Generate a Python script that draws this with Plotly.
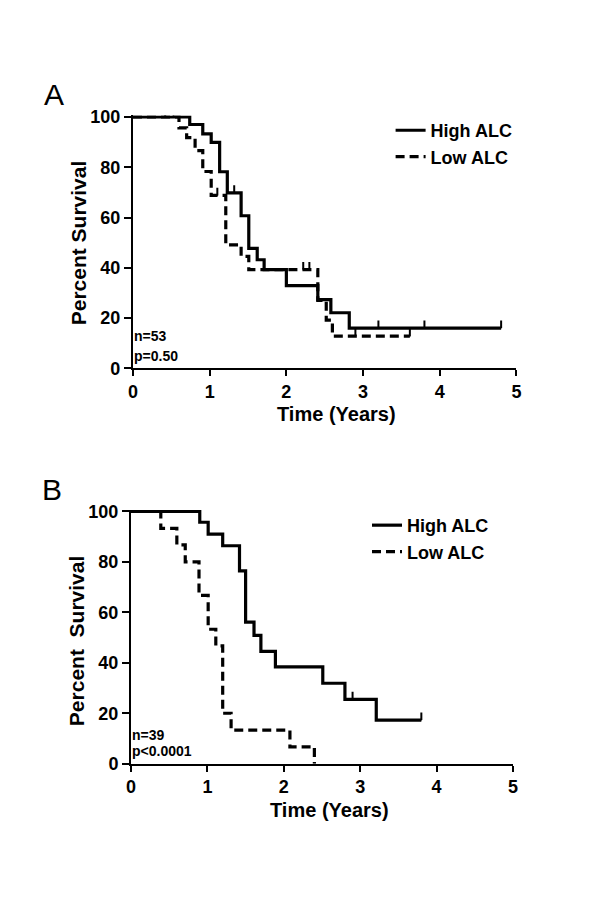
import plotly.graph_objects as go

# ---------------- data ----------------
years_ticks = [0, 1, 2, 3, 4, 5]
pct_ticks = [0, 20, 40, 60, 80, 100]

# Panel A (n=53, p=0.50)
a_high_t = [0, 0.74, 0.91, 1.02, 1.13, 1.23, 1.41, 1.51, 1.62, 1.71, 2.00, 2.41, 2.58, 2.82, 4.80]
a_high_s = [100, 97.0, 93.3, 89.9, 78.2, 69.8, 60.7, 47.7, 43.2, 39.3, 32.9, 27.3, 22.1, 16.0, 16.0]
a_high_cens_t = [0.42, 0.53, 1.32, 3.20, 3.80, 4.80]
a_high_cens_s = [100, 100, 69.8, 16.0, 16.0, 16.0]

a_low_t = [0, 0.60, 0.70, 0.81, 0.91, 1.02, 1.21, 1.41, 1.51, 2.41, 2.52, 2.60, 3.61]
a_low_s = [100, 95.7, 91.8, 86.6, 78.3, 68.8, 49.1, 44.5, 39.3, 27.0, 19.2, 12.8, 12.8]
a_low_cens_t = [1.10, 2.22, 2.30, 2.90, 3.61]
a_low_cens_s = [68.8, 39.3, 39.3, 12.8, 12.8]

# Panel B (n=39, p<0.0001)
b_high_t = [0, 0.90, 1.01, 1.20, 1.42, 1.50, 1.61, 1.70, 1.89, 2.51, 2.80, 3.21, 3.80]
b_high_s = [100, 95.7, 91.0, 86.4, 76.4, 56.1, 50.9, 44.5, 38.4, 31.9, 25.5, 17.3, 17.3]
b_high_cens_t = [0.51, 0.70, 2.90, 3.80]
b_high_cens_s = [100, 100, 25.5, 17.3]

b_low_t = [0, 0.39, 0.60, 0.71, 0.89, 1.01, 1.11, 1.20, 1.31, 2.08, 2.40]
b_low_s = [100, 93.3, 86.7, 80.0, 66.7, 53.3, 46.7, 20.0, 13.3, 6.7, 0]

series_names = ["High ALC", "Low ALC"]

# ---------------- styling ----------------
W, H = 600, 898
FONT = "Liberation Sans, Arial, sans-serif"
BLACK = "black"
LW = 3.2
DASH = "9px,5px"
TICK_H = 3.0  # censor tick height in percent units


def px(x):
    return x / W


def py(y):
    return 1 - y / H


fig = go.Figure()


def add_curve(t, s, name, dash, xa, ya, legend, show):
    fig.add_trace(go.Scatter(
        x=t, y=s, mode="lines", line=dict(color=BLACK, width=LW, dash=dash, shape="hv"),
        name=name, xaxis=xa, yaxis=ya, legend=legend, showlegend=show, cliponaxis=False,
        hoverinfo="skip"))


def add_cens(t, s, xa, ya):
    fig.add_trace(go.Scatter(
        x=t, y=s, mode="markers", marker=dict(size=1, color=BLACK), xaxis=xa, yaxis=ya,
        showlegend=False, cliponaxis=False, hoverinfo="skip",
        error_y=dict(type="data", symmetric=False, array=[TICK_H] * len(t),
                     arrayminus=[0] * len(t), width=0, thickness=2, color=BLACK)))


add_curve(a_high_t, a_high_s, series_names[0], "solid", "x", "y", "legend", True)
add_curve(a_low_t, a_low_s, series_names[1], DASH, "x", "y", "legend", True)
add_cens(a_high_cens_t, a_high_cens_s, "x", "y")
add_cens(a_low_cens_t, a_low_cens_s, "x", "y")

add_curve(b_high_t, b_high_s, series_names[0], "solid", "x2", "y2", "legend2", True)
add_curve(b_low_t, b_low_s, series_names[1], DASH, "x2", "y2", "legend2", True)
add_cens(b_high_cens_t, b_high_cens_s, "x2", "y2")

tickfont = dict(family=FONT, size=18, color=BLACK, weight=700)


def xaxis_cfg(domain, anchor):
    return dict(domain=domain, anchor=anchor, range=[0, 5], tickvals=years_ticks,
                ticktext=[str(v) for v in years_ticks], showline=True, linecolor=BLACK,
                linewidth=2, ticks="outside", ticklen=6, tickwidth=2, tickcolor=BLACK,
                showgrid=False, zeroline=False, tickfont=tickfont, fixedrange=True)


def yaxis_cfg(domain, anchor):
    return dict(domain=domain, anchor=anchor, range=[0, 100.6], tickvals=pct_ticks,
                ticktext=[str(v) for v in pct_ticks], showline=True, linecolor=BLACK,
                linewidth=2, ticks="outside", ticklen=7, tickwidth=2, tickcolor=BLACK,
                showgrid=False, zeroline=False, tickfont=tickfont, fixedrange=True)


legfont = dict(family=FONT, size=18, color=BLACK, weight=700)

fig.update_layout(
    width=W, height=H, margin=dict(l=0, r=0, t=0, b=0),
    paper_bgcolor="white", plot_bgcolor="white",
    xaxis=xaxis_cfg([px(122), px(512)], "y"),
    yaxis=yaxis_cfg([py(359.5), py(101.5)], "x"),
    xaxis2=xaxis_cfg([px(120), px(508.5)], "y2"),
    yaxis2=yaxis_cfg([py(763), py(504)], "x2"),
    legend=dict(x=px(384), y=py(98), xanchor="left", yanchor="top", font=legfont,
                bgcolor="rgba(0,0,0,0)", tracegroupgap=0),
    legend2=dict(x=px(360), y=py(501), xanchor="left", yanchor="top", font=legfont,
                 bgcolor="rgba(0,0,0,0)", tracegroupgap=0),
    showlegend=True,
)

titlefont = dict(family=FONT, size=20, color=BLACK, weight=700)
ytitlefont = dict(family=FONT, size=21, color=BLACK, weight=700)
smallfont = dict(family=FONT, size=14, color=BLACK, weight=700)
letterfont = dict(family=FONT, size=30, color=BLACK)

annots = [
    dict(text="A", x=px(42), y=py(80), font=letterfont),
    dict(text="B", x=px(40), y=py(483), font=letterfont),
    dict(text="Percent Survival", x=px(66), y=py(231), textangle=-90, font=ytitlefont),
    dict(text="Time (Years)", x=px(329), y=py(406), font=titlefont),
    dict(text="Percent\u00a0 Survival", x=px(64), y=py(638), textangle=-90, font=ytitlefont),
    dict(text="Time (Years)", x=px(322), y=py(810), font=titlefont),
    dict(text="n=53", x=px(121), y=py(327), xanchor="left", font=smallfont),
    dict(text="p=0.50", x=px(121), y=py(347), xanchor="left", font=smallfont),
    dict(text="n=39", x=px(119), y=py(734), xanchor="left", font=smallfont),
    dict(text="p<0.0001", x=px(119), y=py(750), xanchor="left", font=smallfont),
]
for a in annots:
    a.update(xref="paper", yref="paper", showarrow=False)
    a.setdefault("xanchor", "center")
    a.setdefault("yanchor", "middle")
fig.update_layout(annotations=annots)

fig.write_html("out.html")
